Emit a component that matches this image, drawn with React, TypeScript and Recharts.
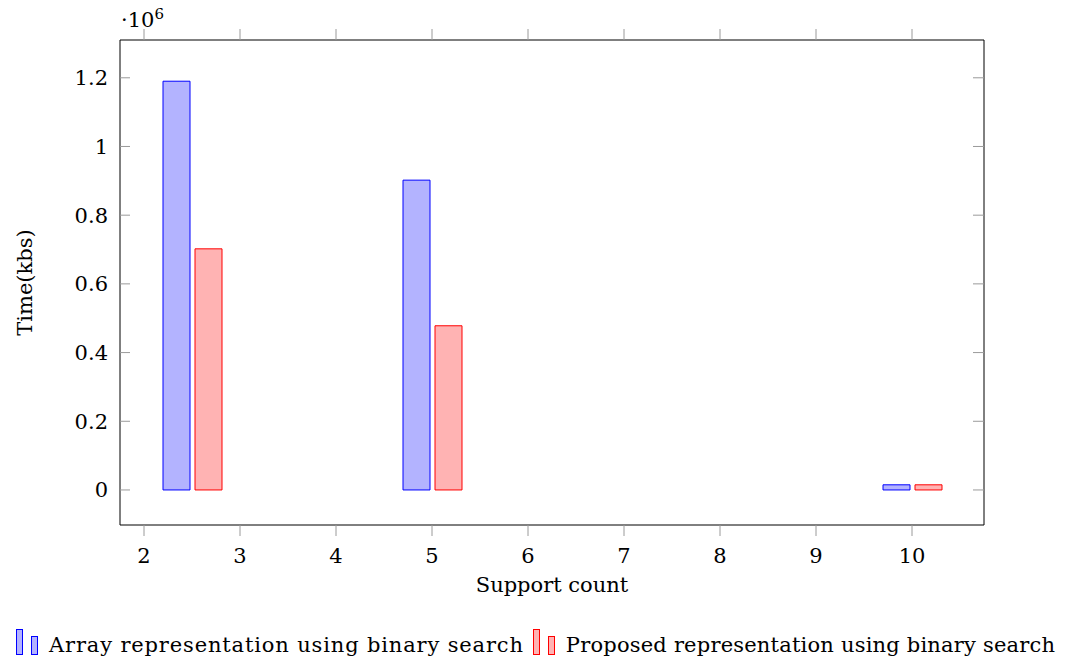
import { BarChart, Bar, XAxis, YAxis, Label } from 'recharts'

const supportCounts = [2.5, 5, 10]
const arrayTimes = [1190000, 902000, 15000]
const proposedTimes = [702000, 478000, 15000]
const xTicks = [2, 3, 4, 5, 6, 7, 8, 9, 10]
const yTicks = [0, 200000, 400000, 600000, 800000, 1000000, 1200000]

const FONT = '"DejaVu Serif", "Liberation Serif", serif'
const FS = 21
const TICK_GRAY = '#9a9a9a'

const data = supportCounts.map((x, i) => ({
  x,
  array: arrayTimes[i],
  proposed: proposedTimes[i],
}))

function LegendIcon({ fill, stroke }: { fill: string; stroke: string }) {
  return (
    <svg width={26} height={30} style={{ verticalAlign: 'bottom', marginRight: 8 }}>
      <rect x={1.5} y={2.5} width={6} height={25} fill={fill} stroke={stroke} />
      <rect x={16.5} y={9.5} width={6} height={18} fill={fill} stroke={stroke} />
    </svg>
  )
}

const noLabel = () => <g />

export default function App() {
  const fmt = (v: number) => {
    const m = v / 1e6
    return m === 0 ? '0' : String(Number(m.toFixed(1)))
  }

  return (
    <div style={{ position: 'absolute', left: 0, top: 0, width: 1084, height: 664, background: '#fff', fontFamily: FONT }}>
      <BarChart
        width={1084}
        height={664}
        data={data}
        barSize={27}
        barGap={5}
        margin={{ top: 39, right: 99, bottom: 109, left: 60 }}
      >
        <XAxis
          xAxisId="bottom"
          dataKey="x"
          type="number"
          domain={[1.75, 10.75]}
          ticks={xTicks}
          allowDataOverflow
          height={30}
          axisLine={{ stroke: '#000' }}
          tickLine={{ stroke: TICK_GRAY }}
          tickSize={11}
          tickMargin={12}
          tick={{ fill: '#000', fontSize: FS, fontFamily: FONT }}
        >
          <Label value="Support count" position="bottom" offset={22} fill="#000" fontSize={FS} fontFamily={FONT} />
        </XAxis>
        <XAxis
          xAxisId="top"
          orientation="top"
          dataKey="x"
          type="number"
          domain={[1.75, 10.75]}
          ticks={xTicks}
          allowDataOverflow
          height={1}
          axisLine={{ stroke: '#000' }}
          tickLine={{ stroke: TICK_GRAY }}
          tickSize={11}
          tick={noLabel}
        />
        <YAxis
          yAxisId="left"
          type="number"
          domain={[-102000, 1310000]}
          ticks={yTicks}
          allowDataOverflow
          width={60}
          axisLine={{ stroke: '#000' }}
          tickLine={{ stroke: TICK_GRAY }}
          tickSize={-10}
          tickMargin={22}
          tickFormatter={fmt}
          tick={{ fill: '#000', fontSize: FS, fontFamily: FONT }}
        >
          <Label
            content={({ viewBox }: any) => {
              const cy = viewBox.y + viewBox.height / 2
              return (
                <text x={32} y={cy} transform={`rotate(-90, 32, ${cy})`} textAnchor="middle" fill="#000" fontSize={FS} fontFamily={FONT}>
                  Time(kbs)
                </text>
              )
            }}
          />
        </YAxis>
        <YAxis
          yAxisId="right"
          orientation="right"
          type="number"
          domain={[-102000, 1310000]}
          ticks={yTicks}
          allowDataOverflow
          width={1}
          axisLine={{ stroke: '#000' }}
          tickLine={{ stroke: TICK_GRAY }}
          tickSize={-11}
          tick={noLabel}
        />
        <Bar xAxisId="bottom" yAxisId="left" dataKey="array" fill="#b3b3ff" stroke="#0000ff" strokeWidth={1} isAnimationActive={false} />
        <Bar xAxisId="bottom" yAxisId="left" dataKey="proposed" fill="#ffb3b3" stroke="#ff0000" strokeWidth={1} isAnimationActive={false} />
      </BarChart>
      <div style={{ position: 'absolute', left: 121, top: 5, fontSize: FS, color: '#000' }}>
        ·10<sup style={{ fontSize: 15 }}>6</sup>
      </div>
      <div style={{ position: 'absolute', left: 15, top: 627, fontSize: FS, color: '#000', whiteSpace: 'nowrap' }}>
        <LegendIcon fill="#b3b3ff" stroke="#0000ff" />
        <span style={{ marginRight: 8, letterSpacing: 0.85 }}>Array representation using binary search</span>
        <LegendIcon fill="#ffb3b3" stroke="#ff0000" />
        <span style={{ letterSpacing: 0.2 }}>Proposed representation using binary search</span>
      </div>
    </div>
  )
}
